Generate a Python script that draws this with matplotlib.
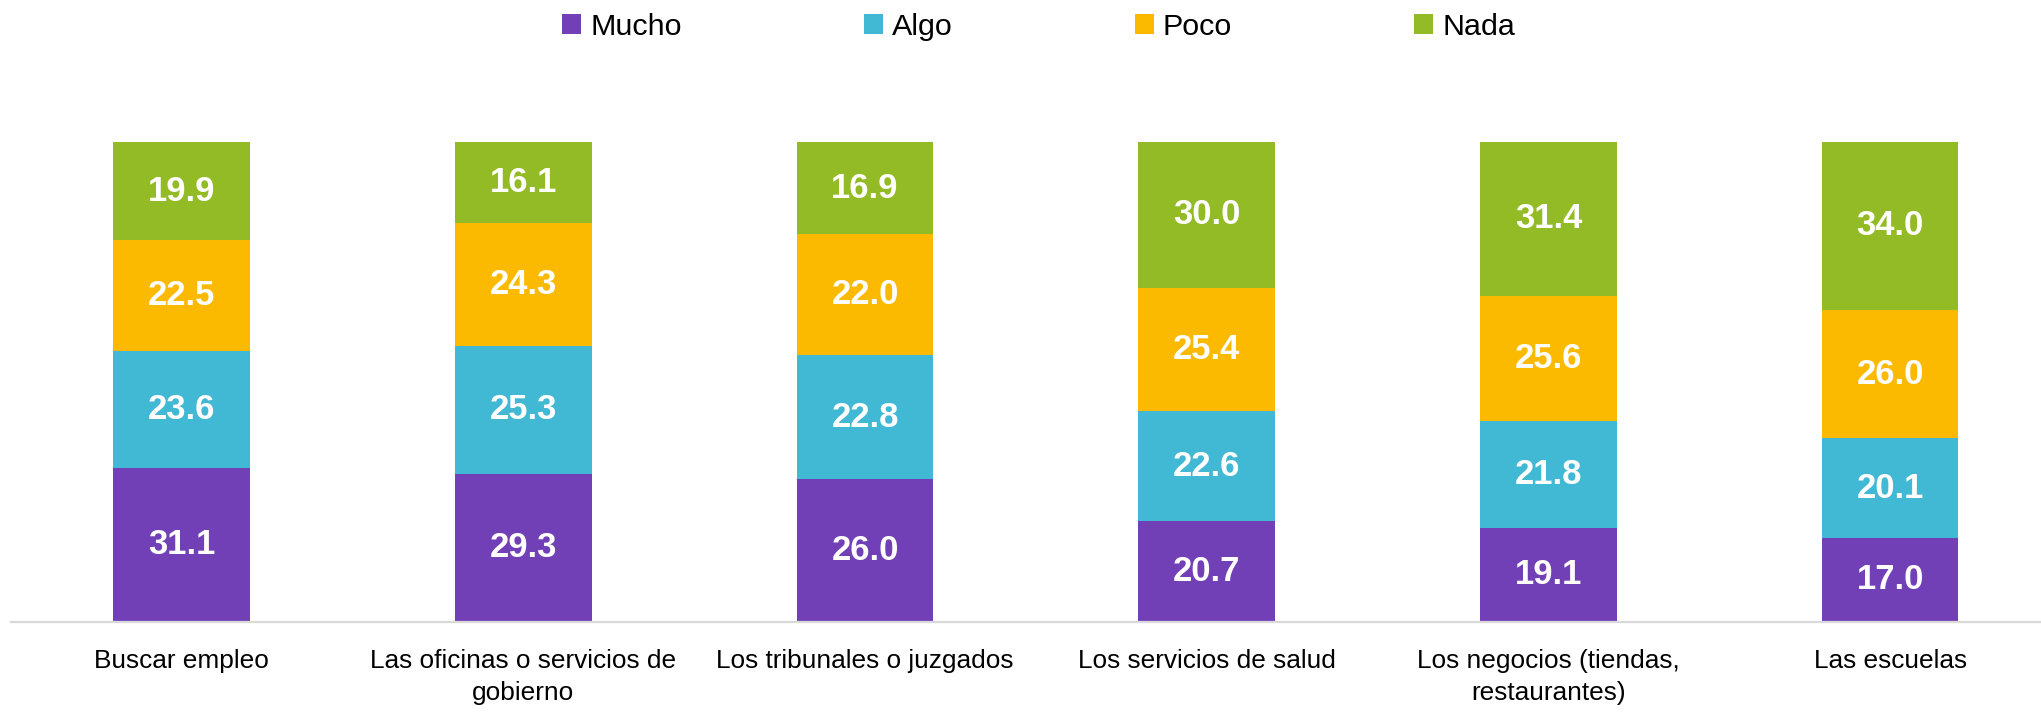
import numpy as np
import matplotlib
matplotlib.use("Agg")
import matplotlib.pyplot as plt
from matplotlib import font_manager
from matplotlib.patches import Patch

# Data
categories = [
    "Buscar empleo",
    "Las oficinas o servicios de\ngobierno",
    "Los tribunales o juzgados",
    "Los servicios de salud",
    "Los negocios (tiendas,\nrestaurantes)",
    "Las escuelas",
]
series_names = ["Mucho", "Algo", "Poco", "Nada"]
mucho = [31.1, 29.3, 26.0, 20.7, 19.1, 17.0]
algo = [23.6, 25.3, 22.8, 22.6, 21.8, 20.1]
poco = [22.5, 24.3, 22.0, 25.4, 25.6, 26.0]
nada = [19.9, 16.1, 16.9, 30.0, 31.4, 34.0]

colors = ["#7140B7", "#41B8D4", "#FBB900", "#92BB25"]

# Narrow Arial-like font if available, else plain Liberation Sans
installed = {f.name for f in font_manager.fontManager.ttflist}
narrow = "Liberation Sans Narrow" in installed
main_font = "Liberation Sans Narrow" if narrow else "Liberation Sans"
plt.rcParams["font.family"] = [main_font, "DejaVu Sans"]
k = 1.0 if narrow else 0.86  # shrink wide font to keep text widths

series = np.array([mucho, algo, poco, nada])
totals = series.sum(axis=0)
shares = series / totals * 100  # 100% stacked

fig = plt.figure(figsize=(20.41, 7.12), dpi=100)
ax = fig.add_axes([0.0053, 0.1268, 1.0045, 0.674])

x = np.arange(len(categories))
width = 0.40
bottom = np.zeros(len(categories))
for name, vals, pct, col in zip(series_names, series, shares, colors):
    ax.bar(x, pct, width, bottom=bottom, color=col, label=name, linewidth=0)
    for xi, b, p, v in zip(x, bottom, pct, vals):
        ax.text(xi, b + p / 2, f"{v:.1f}", ha="center", va="center",
                color="white", fontsize=29 * k, fontweight="bold")
    bottom += pct

ax.set_xlim(-0.5, 5.5)
ax.set_ylim(0, 100)
ax.set_yticks([])
ax.set_xticks(x)
ax.set_xticklabels(categories, fontsize=22 * k, linespacing=1.42)
ax.tick_params(axis="x", length=0, pad=20)
for s in ["top", "right", "left"]:
    ax.spines[s].set_visible(False)
ax.spines["bottom"].set_color("#D9D9D9")
ax.spines["bottom"].set_linewidth(1.6)

fs_leg = 25.5 * k
handles = [Patch(facecolor=c, edgecolor="none") for c in colors]
fig.legend(handles, series_names, loc="center left", bbox_to_anchor=(0.2754, 0.962),
           ncol=4, frameon=False, fontsize=fs_leg, borderpad=0, borderaxespad=0,
           handlelength=13.7 / fs_leg, handleheight=13.7 / fs_leg,
           handletextpad=0.3, columnspacing=131 / fs_leg)

fig.savefig("out.png", dpi=100)
plt.close()
